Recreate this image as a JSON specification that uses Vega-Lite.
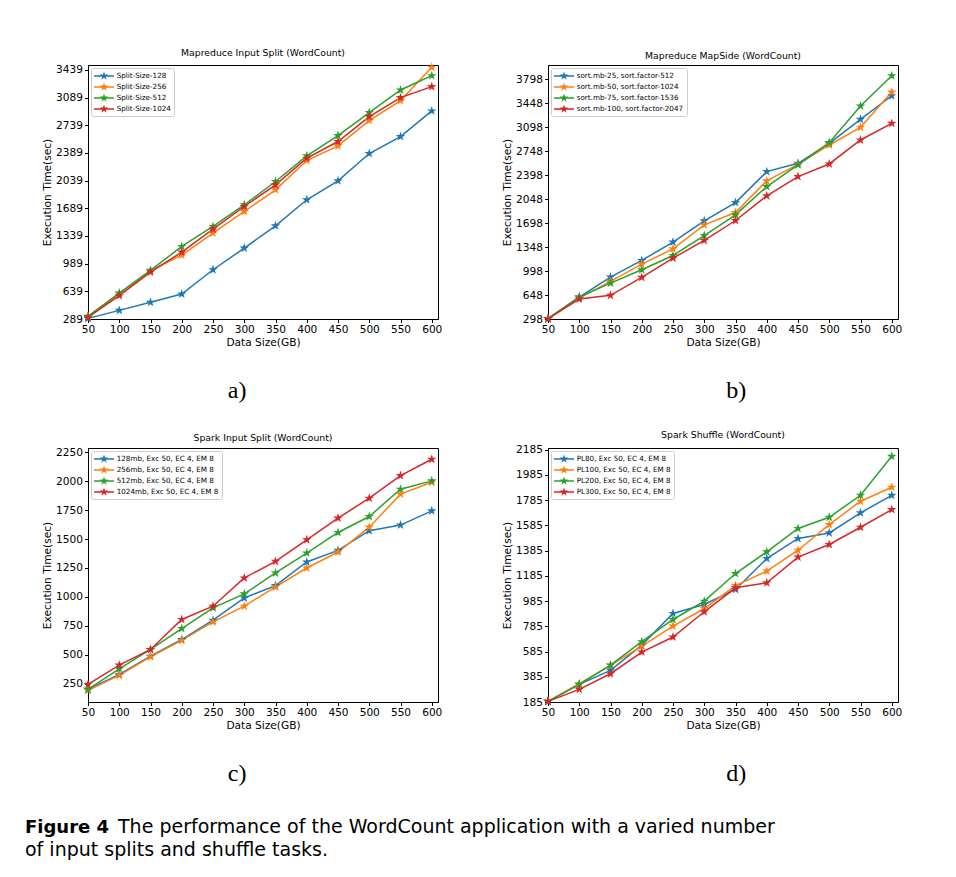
{
  "$schema": "https://vega.github.io/schema/vega-lite/v6.json",
  "background": "white",
  "padding": {"left": 25, "top": 48, "right": 5, "bottom": 5},
  "spacing": 26,
  "resolve": {"scale": {"color": "independent"}, "legend": {"color": "independent"}},
  "config": {
    "font": "DejaVu Sans",
    "view": {"stroke": "black", "strokeWidth": 1},
    "axis": {"grid": false, "labelFont": "DejaVu Sans", "labelFontSize": 10.6, "labelColor": "black", "titleFont": "DejaVu Sans", "titleFontSize": 10.6, "titleFontWeight": "normal", "titleColor": "black", "tickColor": "black", "tickSize": 3.5, "domainColor": "black", "labelPadding": 2, "labelFlush": false, "labelOverlap": false, "format": "d"},
    "axisX": {"titlePadding": 2},
    "axisY": {"titlePadding": 3},
    "title": {"font": "DejaVu Sans", "fontSize": 9.3, "fontWeight": "normal", "color": "black", "offset": 4, "frame": "group", "anchor": "middle"},
    "legend": {"orient": "top-left", "offset": 3, "padding": 3, "rowPadding": 2, "labelFont": "DejaVu Sans", "labelFontSize": 7.2, "labelColor": "black", "labelOffset": 12.7, "symbolType": "M-1,-0.15H3V0.15H-1Z M1,-0.9L1.202,-0.278L1.856,-0.278L1.327,0.106L1.529,0.728L1,0.344L0.471,0.728L0.673,0.106L0.144,-0.278L0.798,-0.278Z", "symbolSize": 100, "symbolStrokeWidth": 0, "strokeColor": "#cccccc", "fillColor": "white", "cornerRadius": 2}
  },
  "datasets": {
    "a": [
      {"x":50,"y":297,"s":"Split-Size-128"},{"x":100,"y":398,"s":"Split-Size-128"},{"x":150,"y":500,"s":"Split-Size-128"},{"x":200,"y":605,"s":"Split-Size-128"},{"x":250,"y":912,"s":"Split-Size-128"},{"x":300,"y":1186,"s":"Split-Size-128"},{"x":350,"y":1468,"s":"Split-Size-128"},{"x":400,"y":1797,"s":"Split-Size-128"},{"x":450,"y":2037,"s":"Split-Size-128"},{"x":500,"y":2382,"s":"Split-Size-128"},{"x":550,"y":2597,"s":"Split-Size-128"},{"x":600,"y":2921,"s":"Split-Size-128"},
      {"x":50,"y":323,"s":"Split-Size-256"},{"x":100,"y":609,"s":"Split-Size-256"},{"x":150,"y":900,"s":"Split-Size-256"},{"x":200,"y":1098,"s":"Split-Size-256"},{"x":250,"y":1376,"s":"Split-Size-256"},{"x":300,"y":1649,"s":"Split-Size-256"},{"x":350,"y":1923,"s":"Split-Size-256"},{"x":400,"y":2293,"s":"Split-Size-256"},{"x":450,"y":2479,"s":"Split-Size-256"},{"x":500,"y":2799,"s":"Split-Size-256"},{"x":550,"y":3052,"s":"Split-Size-256"},{"x":600,"y":3473,"s":"Split-Size-256"},
      {"x":50,"y":323,"s":"Split-Size-512"},{"x":100,"y":617,"s":"Split-Size-512"},{"x":150,"y":904,"s":"Split-Size-512"},{"x":200,"y":1207,"s":"Split-Size-512"},{"x":250,"y":1460,"s":"Split-Size-512"},{"x":300,"y":1733,"s":"Split-Size-512"},{"x":350,"y":2028,"s":"Split-Size-512"},{"x":400,"y":2352,"s":"Split-Size-512"},{"x":450,"y":2609,"s":"Split-Size-512"},{"x":500,"y":2900,"s":"Split-Size-512"},{"x":550,"y":3186,"s":"Split-Size-512"},{"x":600,"y":3367,"s":"Split-Size-512"},
      {"x":50,"y":310,"s":"Split-Size-1024"},{"x":100,"y":584,"s":"Split-Size-1024"},{"x":150,"y":883,"s":"Split-Size-1024"},{"x":200,"y":1135,"s":"Split-Size-1024"},{"x":250,"y":1426,"s":"Split-Size-1024"},{"x":300,"y":1712,"s":"Split-Size-1024"},{"x":350,"y":1986,"s":"Split-Size-1024"},{"x":400,"y":2323,"s":"Split-Size-1024"},{"x":450,"y":2534,"s":"Split-Size-1024"},{"x":500,"y":2849,"s":"Split-Size-1024"},{"x":550,"y":3089,"s":"Split-Size-1024"},{"x":600,"y":3228,"s":"Split-Size-1024"}
    ],
    "b": [
      {"x":50,"y":302,"s":"sort.mb-25, sort.factor-512"},{"x":100,"y":618,"s":"sort.mb-25, sort.factor-512"},{"x":150,"y":910,"s":"sort.mb-25, sort.factor-512"},{"x":200,"y":1152,"s":"sort.mb-25, sort.factor-512"},{"x":250,"y":1419,"s":"sort.mb-25, sort.factor-512"},{"x":300,"y":1730,"s":"sort.mb-25, sort.factor-512"},{"x":350,"y":1997,"s":"sort.mb-25, sort.factor-512"},{"x":400,"y":2448,"s":"sort.mb-25, sort.factor-512"},{"x":450,"y":2570,"s":"sort.mb-25, sort.factor-512"},{"x":500,"y":2861,"s":"sort.mb-25, sort.factor-512"},{"x":550,"y":3211,"s":"sort.mb-25, sort.factor-512"},{"x":600,"y":3555,"s":"sort.mb-25, sort.factor-512"},
      {"x":50,"y":302,"s":"sort.mb-50, sort.factor-1024"},{"x":100,"y":604,"s":"sort.mb-50, sort.factor-1024"},{"x":150,"y":847,"s":"sort.mb-50, sort.factor-1024"},{"x":200,"y":1099,"s":"sort.mb-50, sort.factor-1024"},{"x":250,"y":1322,"s":"sort.mb-50, sort.factor-1024"},{"x":300,"y":1672,"s":"sort.mb-50, sort.factor-1024"},{"x":350,"y":1851,"s":"sort.mb-50, sort.factor-1024"},{"x":400,"y":2313,"s":"sort.mb-50, sort.factor-1024"},{"x":450,"y":2555,"s":"sort.mb-50, sort.factor-1024"},{"x":500,"y":2837,"s":"sort.mb-50, sort.factor-1024"},{"x":550,"y":3094,"s":"sort.mb-50, sort.factor-1024"},{"x":600,"y":3609,"s":"sort.mb-50, sort.factor-1024"},
      {"x":50,"y":302,"s":"sort.mb-75, sort.factor-1536"},{"x":100,"y":618,"s":"sort.mb-75, sort.factor-1536"},{"x":150,"y":822,"s":"sort.mb-75, sort.factor-1536"},{"x":200,"y":1016,"s":"sort.mb-75, sort.factor-1536"},{"x":250,"y":1225,"s":"sort.mb-75, sort.factor-1536"},{"x":300,"y":1516,"s":"sort.mb-75, sort.factor-1536"},{"x":350,"y":1817,"s":"sort.mb-75, sort.factor-1536"},{"x":400,"y":2230,"s":"sort.mb-75, sort.factor-1536"},{"x":450,"y":2546,"s":"sort.mb-75, sort.factor-1536"},{"x":500,"y":2871,"s":"sort.mb-75, sort.factor-1536"},{"x":550,"y":3405,"s":"sort.mb-75, sort.factor-1536"},{"x":600,"y":3847,"s":"sort.mb-75, sort.factor-1536"},
      {"x":50,"y":302,"s":"sort.mb-100, sort.factor-2047"},{"x":100,"y":589,"s":"sort.mb-100, sort.factor-2047"},{"x":150,"y":643,"s":"sort.mb-100, sort.factor-2047"},{"x":200,"y":905,"s":"sort.mb-100, sort.factor-2047"},{"x":250,"y":1186,"s":"sort.mb-100, sort.factor-2047"},{"x":300,"y":1444,"s":"sort.mb-100, sort.factor-2047"},{"x":350,"y":1735,"s":"sort.mb-100, sort.factor-2047"},{"x":400,"y":2094,"s":"sort.mb-100, sort.factor-2047"},{"x":450,"y":2376,"s":"sort.mb-100, sort.factor-2047"},{"x":500,"y":2560,"s":"sort.mb-100, sort.factor-2047"},{"x":550,"y":2910,"s":"sort.mb-100, sort.factor-2047"},{"x":600,"y":3152,"s":"sort.mb-100, sort.factor-2047"}
    ],
    "c": [
      {"x":50,"y":201,"s":"128mb, Exc 50, EC 4, EM 8"},{"x":100,"y":330,"s":"128mb, Exc 50, EC 4, EM 8"},{"x":150,"y":488,"s":"128mb, Exc 50, EC 4, EM 8"},{"x":200,"y":632,"s":"128mb, Exc 50, EC 4, EM 8"},{"x":250,"y":799,"s":"128mb, Exc 50, EC 4, EM 8"},{"x":300,"y":991,"s":"128mb, Exc 50, EC 4, EM 8"},{"x":350,"y":1098,"s":"128mb, Exc 50, EC 4, EM 8"},{"x":400,"y":1302,"s":"128mb, Exc 50, EC 4, EM 8"},{"x":450,"y":1402,"s":"128mb, Exc 50, EC 4, EM 8"},{"x":500,"y":1572,"s":"128mb, Exc 50, EC 4, EM 8"},{"x":550,"y":1621,"s":"128mb, Exc 50, EC 4, EM 8"},{"x":600,"y":1744,"s":"128mb, Exc 50, EC 4, EM 8"},
      {"x":50,"y":193,"s":"256mb, Exc 50, EC 4, EM 8"},{"x":100,"y":322,"s":"256mb, Exc 50, EC 4, EM 8"},{"x":150,"y":483,"s":"256mb, Exc 50, EC 4, EM 8"},{"x":200,"y":624,"s":"256mb, Exc 50, EC 4, EM 8"},{"x":250,"y":784,"s":"256mb, Exc 50, EC 4, EM 8"},{"x":300,"y":920,"s":"256mb, Exc 50, EC 4, EM 8"},{"x":350,"y":1086,"s":"256mb, Exc 50, EC 4, EM 8"},{"x":400,"y":1250,"s":"256mb, Exc 50, EC 4, EM 8"},{"x":450,"y":1388,"s":"256mb, Exc 50, EC 4, EM 8"},{"x":500,"y":1603,"s":"256mb, Exc 50, EC 4, EM 8"},{"x":550,"y":1888,"s":"256mb, Exc 50, EC 4, EM 8"},{"x":600,"y":1991,"s":"256mb, Exc 50, EC 4, EM 8"},
      {"x":50,"y":201,"s":"512mb, Exc 50, EC 4, EM 8"},{"x":100,"y":379,"s":"512mb, Exc 50, EC 4, EM 8"},{"x":150,"y":546,"s":"512mb, Exc 50, EC 4, EM 8"},{"x":200,"y":727,"s":"512mb, Exc 50, EC 4, EM 8"},{"x":250,"y":905,"s":"512mb, Exc 50, EC 4, EM 8"},{"x":300,"y":1026,"s":"512mb, Exc 50, EC 4, EM 8"},{"x":350,"y":1207,"s":"512mb, Exc 50, EC 4, EM 8"},{"x":400,"y":1379,"s":"512mb, Exc 50, EC 4, EM 8"},{"x":450,"y":1557,"s":"512mb, Exc 50, EC 4, EM 8"},{"x":500,"y":1695,"s":"512mb, Exc 50, EC 4, EM 8"},{"x":550,"y":1931,"s":"512mb, Exc 50, EC 4, EM 8"},{"x":600,"y":2003,"s":"512mb, Exc 50, EC 4, EM 8"},
      {"x":50,"y":244,"s":"1024mb, Exc 50, EC 4, EM 8"},{"x":100,"y":411,"s":"1024mb, Exc 50, EC 4, EM 8"},{"x":150,"y":546,"s":"1024mb, Exc 50, EC 4, EM 8"},{"x":200,"y":805,"s":"1024mb, Exc 50, EC 4, EM 8"},{"x":250,"y":920,"s":"1024mb, Exc 50, EC 4, EM 8"},{"x":300,"y":1164,"s":"1024mb, Exc 50, EC 4, EM 8"},{"x":350,"y":1307,"s":"1024mb, Exc 50, EC 4, EM 8"},{"x":400,"y":1494,"s":"1024mb, Exc 50, EC 4, EM 8"},{"x":450,"y":1681,"s":"1024mb, Exc 50, EC 4, EM 8"},{"x":500,"y":1853,"s":"1024mb, Exc 50, EC 4, EM 8"},{"x":550,"y":2049,"s":"1024mb, Exc 50, EC 4, EM 8"},{"x":600,"y":2190,"s":"1024mb, Exc 50, EC 4, EM 8"}
    ],
    "d": [
      {"x":50,"y":190,"s":"PL80, Exc 50, EC 4, EM 8"},{"x":100,"y":325,"s":"PL80, Exc 50, EC 4, EM 8"},{"x":150,"y":436,"s":"PL80, Exc 50, EC 4, EM 8"},{"x":200,"y":636,"s":"PL80, Exc 50, EC 4, EM 8"},{"x":250,"y":887,"s":"PL80, Exc 50, EC 4, EM 8"},{"x":300,"y":958,"s":"PL80, Exc 50, EC 4, EM 8"},{"x":350,"y":1077,"s":"PL80, Exc 50, EC 4, EM 8"},{"x":400,"y":1322,"s":"PL80, Exc 50, EC 4, EM 8"},{"x":450,"y":1481,"s":"PL80, Exc 50, EC 4, EM 8"},{"x":500,"y":1525,"s":"PL80, Exc 50, EC 4, EM 8"},{"x":550,"y":1684,"s":"PL80, Exc 50, EC 4, EM 8"},{"x":600,"y":1823,"s":"PL80, Exc 50, EC 4, EM 8"},
      {"x":50,"y":190,"s":"PL100, Exc 50, EC 4, EM 8"},{"x":100,"y":330,"s":"PL100, Exc 50, EC 4, EM 8"},{"x":150,"y":475,"s":"PL100, Exc 50, EC 4, EM 8"},{"x":200,"y":628,"s":"PL100, Exc 50, EC 4, EM 8"},{"x":250,"y":787,"s":"PL100, Exc 50, EC 4, EM 8"},{"x":300,"y":926,"s":"PL100, Exc 50, EC 4, EM 8"},{"x":350,"y":1108,"s":"PL100, Exc 50, EC 4, EM 8"},{"x":400,"y":1222,"s":"PL100, Exc 50, EC 4, EM 8"},{"x":450,"y":1388,"s":"PL100, Exc 50, EC 4, EM 8"},{"x":500,"y":1591,"s":"PL100, Exc 50, EC 4, EM 8"},{"x":550,"y":1776,"s":"PL100, Exc 50, EC 4, EM 8"},{"x":600,"y":1887,"s":"PL100, Exc 50, EC 4, EM 8"},
      {"x":50,"y":190,"s":"PL200, Exc 50, EC 4, EM 8"},{"x":100,"y":325,"s":"PL200, Exc 50, EC 4, EM 8"},{"x":150,"y":478,"s":"PL200, Exc 50, EC 4, EM 8"},{"x":200,"y":663,"s":"PL200, Exc 50, EC 4, EM 8"},{"x":250,"y":839,"s":"PL200, Exc 50, EC 4, EM 8"},{"x":300,"y":984,"s":"PL200, Exc 50, EC 4, EM 8"},{"x":350,"y":1203,"s":"PL200, Exc 50, EC 4, EM 8"},{"x":400,"y":1375,"s":"PL200, Exc 50, EC 4, EM 8"},{"x":450,"y":1560,"s":"PL200, Exc 50, EC 4, EM 8"},{"x":500,"y":1649,"s":"PL200, Exc 50, EC 4, EM 8"},{"x":550,"y":1823,"s":"PL200, Exc 50, EC 4, EM 8"},{"x":600,"y":2132,"s":"PL200, Exc 50, EC 4, EM 8"},
      {"x":50,"y":190,"s":"PL300, Exc 50, EC 4, EM 8"},{"x":100,"y":285,"s":"PL300, Exc 50, EC 4, EM 8"},{"x":150,"y":409,"s":"PL300, Exc 50, EC 4, EM 8"},{"x":200,"y":581,"s":"PL300, Exc 50, EC 4, EM 8"},{"x":250,"y":700,"s":"PL300, Exc 50, EC 4, EM 8"},{"x":300,"y":900,"s":"PL300, Exc 50, EC 4, EM 8"},{"x":350,"y":1090,"s":"PL300, Exc 50, EC 4, EM 8"},{"x":400,"y":1130,"s":"PL300, Exc 50, EC 4, EM 8"},{"x":450,"y":1333,"s":"PL300, Exc 50, EC 4, EM 8"},{"x":500,"y":1433,"s":"PL300, Exc 50, EC 4, EM 8"},{"x":550,"y":1570,"s":"PL300, Exc 50, EC 4, EM 8"},{"x":600,"y":1710,"s":"PL300, Exc 50, EC 4, EM 8"}
    ],
    "cap1": [{"t": "Figure 4"}],
    "cap2": [{"t": "The performance of the WordCount application with a varied number"}],
    "cap3": [{"t": "of input splits and shuffle tasks."}]
  },
  "vconcat": [
    {
      "hconcat": [
        {
          "title": {"text": "a)", "orient": "bottom", "font": "Liberation Serif", "fontSize": 24, "frame": "bounds", "offset": 31, "dx": -5},
          "resolve": {"scale": {"color": "independent"}, "legend": {"color": "independent"}},
          "vconcat": [
            {
              "title": "Mapreduce Input Split (WordCount)",
              "width": 350, "height": 254,
              "data": {"name": "a"},
              "encoding": {
                "x": {"field": "x", "type": "quantitative", "scale": {"domain": [50, 610], "nice": false, "zero": false}, "axis": {"values": [50,100,150,200,250,300,350,400,450,500,550,600], "title": "Data Size(GB)"}},
                "y": {"field": "y", "type": "quantitative", "scale": {"domain": [289, 3502], "nice": false, "zero": false}, "axis": {"values": [289,639,989,1339,1689,2039,2389,2739,3089,3439], "title": "Execution Time(sec)"}},
                "color": {"field": "s", "type": "nominal", "scale": {"domain": ["Split-Size-128","Split-Size-256","Split-Size-512","Split-Size-1024"], "range": ["#1f77b4","#ff7f0e","#2ca02c","#d62728"]}, "title": null}
              },
              "layer": [
                {"mark": {"type": "line", "strokeWidth": 1.5}},
                {"mark": {"type": "point", "shape": "M0,-1L0.2245,-0.309L0.9511,-0.309L0.3633,0.118L0.5878,0.809L0,0.382L-0.5878,0.809L-0.3633,0.118L-0.9511,-0.309L-0.2245,-0.309Z", "size": 100, "filled": true, "opacity": 1, "strokeWidth": 0}}
              ]
            }
          ]
        },
        {
          "title": {"text": "b)", "orient": "bottom", "font": "Liberation Serif", "fontSize": 24, "frame": "bounds", "offset": 31, "dx": 34},
          "resolve": {"scale": {"color": "independent"}, "legend": {"color": "independent"}},
          "vconcat": [
            {
              "title": "Mapreduce MapSide (WordCount)",
              "width": 350, "height": 254,
              "data": {"name": "b"},
              "encoding": {
                "x": {"field": "x", "type": "quantitative", "scale": {"domain": [50, 610], "nice": false, "zero": false}, "axis": {"values": [50,100,150,200,250,300,350,400,450,500,550,600], "title": "Data Size(GB)"}},
                "y": {"field": "y", "type": "quantitative", "scale": {"domain": [298, 4004], "nice": false, "zero": false}, "axis": {"values": [298,648,998,1348,1698,2048,2398,2748,3098,3448,3798], "title": "Execution Time(sec)"}},
                "color": {"field": "s", "type": "nominal", "scale": {"domain": ["sort.mb-25, sort.factor-512","sort.mb-50, sort.factor-1024","sort.mb-75, sort.factor-1536","sort.mb-100, sort.factor-2047"], "range": ["#1f77b4","#ff7f0e","#2ca02c","#d62728"]}, "title": null}
              },
              "layer": [
                {"mark": {"type": "line", "strokeWidth": 1.5}},
                {"mark": {"type": "point", "shape": "M0,-1L0.2245,-0.309L0.9511,-0.309L0.3633,0.118L0.5878,0.809L0,0.382L-0.5878,0.809L-0.3633,0.118L-0.9511,-0.309L-0.2245,-0.309Z", "size": 100, "filled": true, "opacity": 1, "strokeWidth": 0}}
              ]
            }
          ]
        }
      ],
      "spacing": 59,
      "resolve": {"scale": {"color": "independent"}, "legend": {"color": "independent"}}
    },
    {
      "hconcat": [
        {
          "title": {"text": "c)", "orient": "bottom", "font": "Liberation Serif", "fontSize": 24, "frame": "bounds", "offset": 31, "dx": -5},
          "resolve": {"scale": {"color": "independent"}, "legend": {"color": "independent"}},
          "vconcat": [
            {
              "title": "Spark Input Split (WordCount)",
              "width": 350, "height": 254,
              "data": {"name": "c"},
              "encoding": {
                "x": {"field": "x", "type": "quantitative", "scale": {"domain": [50, 610], "nice": false, "zero": false}, "axis": {"values": [50,100,150,200,250,300,350,400,450,500,550,600], "title": "Data Size(GB)"}},
                "y": {"field": "y", "type": "quantitative", "scale": {"domain": [92, 2287], "nice": false, "zero": false}, "axis": {"values": [250,500,750,1000,1250,1500,1750,2000,2250], "title": "Execution Time(sec)"}},
                "color": {"field": "s", "type": "nominal", "scale": {"domain": ["128mb, Exc 50, EC 4, EM 8","256mb, Exc 50, EC 4, EM 8","512mb, Exc 50, EC 4, EM 8","1024mb, Exc 50, EC 4, EM 8"], "range": ["#1f77b4","#ff7f0e","#2ca02c","#d62728"]}, "title": null}
              },
              "layer": [
                {"mark": {"type": "line", "strokeWidth": 1.5}},
                {"mark": {"type": "point", "shape": "M0,-1L0.2245,-0.309L0.9511,-0.309L0.3633,0.118L0.5878,0.809L0,0.382L-0.5878,0.809L-0.3633,0.118L-0.9511,-0.309L-0.2245,-0.309Z", "size": 100, "filled": true, "opacity": 1, "strokeWidth": 0}}
              ]
            }
          ]
        },
        {
          "title": {"text": "d)", "orient": "bottom", "font": "Liberation Serif", "fontSize": 24, "frame": "bounds", "offset": 31, "dx": 34},
          "resolve": {"scale": {"color": "independent"}, "legend": {"color": "independent"}},
          "vconcat": [
            {
              "title": "Spark Shuffle (WordCount)",
              "width": 350, "height": 254,
              "data": {"name": "d"},
              "encoding": {
                "x": {"field": "x", "type": "quantitative", "scale": {"domain": [50, 610], "nice": false, "zero": false}, "axis": {"values": [50,100,150,200,250,300,350,400,450,500,550,600], "title": "Data Size(GB)"}},
                "y": {"field": "y", "type": "quantitative", "scale": {"domain": [185, 2198], "nice": false, "zero": false}, "axis": {"values": [185,385,585,785,985,1185,1385,1585,1785,1985,2185], "title": "Execution Time(sec)"}},
                "color": {"field": "s", "type": "nominal", "scale": {"domain": ["PL80, Exc 50, EC 4, EM 8","PL100, Exc 50, EC 4, EM 8","PL200, Exc 50, EC 4, EM 8","PL300, Exc 50, EC 4, EM 8"], "range": ["#1f77b4","#ff7f0e","#2ca02c","#d62728"]}, "title": null}
              },
              "layer": [
                {"mark": {"type": "line", "strokeWidth": 1.5}},
                {"mark": {"type": "point", "shape": "M0,-1L0.2245,-0.309L0.9511,-0.309L0.3633,0.118L0.5878,0.809L0,0.382L-0.5878,0.809L-0.3633,0.118L-0.9511,-0.309L-0.2245,-0.309Z", "size": 100, "filled": true, "opacity": 1, "strokeWidth": 0}}
              ]
            }
          ]
        }
      ],
      "spacing": 59,
      "resolve": {"scale": {"color": "independent"}, "legend": {"color": "independent"}}
    },
    {
      "width": 780, "height": 45,
      "view": {"stroke": null},
      "layer": [
        {"data": {"name": "cap1"}, "mark": {"type": "text", "font": "DejaVu Sans", "fontWeight": "bold", "fontSize": 18, "align": "left", "baseline": "alphabetic", "color": "black", "x": -63, "y": 20}, "encoding": {"text": {"field": "t"}}},
        {"data": {"name": "cap2"}, "mark": {"type": "text", "font": "DejaVu Sans", "fontSize": 19, "align": "left", "baseline": "alphabetic", "color": "black", "x": 30, "y": 20}, "encoding": {"text": {"field": "t"}}},
        {"data": {"name": "cap3"}, "mark": {"type": "text", "font": "DejaVu Sans", "fontSize": 19, "align": "left", "baseline": "alphabetic", "color": "black", "x": -63, "y": 43}, "encoding": {"text": {"field": "t"}}}
      ]
    }
  ]
}
